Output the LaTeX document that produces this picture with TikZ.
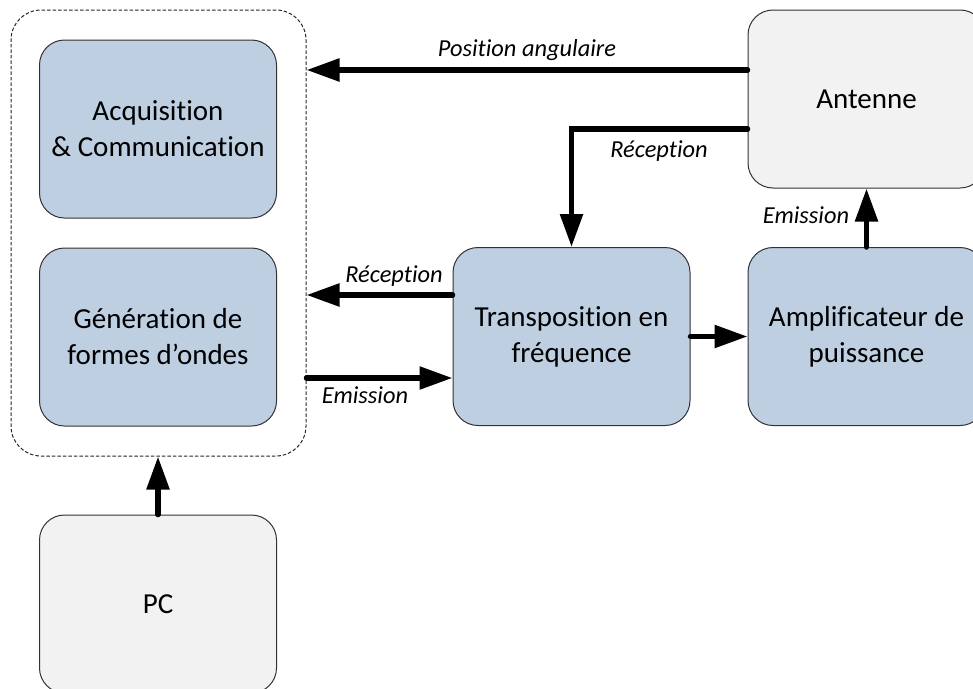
\documentclass[tikz,border=0pt]{standalone}
\usepackage{fontspec}
\setmainfont[Ligatures=NoCommon]{Carlito}
\usetikzlibrary{arrows.meta}
\definecolor{boxblue}{RGB}{190,207,226}
\definecolor{boxgray}{RGB}{242,242,242}
\definecolor{edge}{RGB}{50,50,50}
\tikzset{
  blockbox/.style={rectangle, rounded corners=25pt, draw=edge, line width=1pt,
    minimum width=237pt, minimum height=178pt, inner sep=0pt, align=center,
    font=\fontsize{29}{36}\selectfont},
  bluebox/.style={blockbox, fill=boxblue},
  graybox/.style={blockbox, fill=boxgray},
  groupbox/.style={rectangle, rounded corners=30pt, draw=black!85, line width=1pt,
    dash pattern=on 3.5pt off 2pt, minimum width=295pt, minimum height=446pt, inner sep=0pt},
  arr/.style={line width=5.5pt, line cap=round, -{Triangle[length=33pt,width=22pt]}},
  lbl/.style={anchor=base, inner sep=0pt, font=\itshape\fontsize{24.4}{29}\selectfont}
}
\begin{document}
\begin{tikzpicture}[x=1pt,y=-1pt]
\path[use as bounding box, clip] (0,0) rectangle (973,688);
\node[groupbox] (grp) at (158.5,233) {};
\node[bluebox] (acq) at (158,129) {Acquisition\\\& Communication};
\node[bluebox] (gen) at (158,337) {Génération de\\formes d’ondes};
\node[graybox] (pc) at (158,604) {PC};
\node[bluebox] (trans) at (571.5,336.5) {Transposition en\\fréquence};
\node[bluebox] (amp) at (866.5,336.5) {Amplificateur de\\puissance};
\node[graybox] (ant) at (866.5,99) {Antenne};
% connectors
\draw[arr] ([yshift=29pt]ant.west) -- ([yshift=29pt]ant.west -| grp.east);
\draw[arr] ([yshift=-30pt]ant.west) -| (trans.north);
\draw[arr] (amp.north) -- (ant.south);
\draw[arr] ([yshift=41.5pt]trans.west) -- ([yshift=41.5pt]trans.west -| grp.east);
\draw[arr] ([yshift=-41.5pt]trans.west -| grp.east) -- ([yshift=-41.5pt]trans.west);
\draw[arr] (trans.east) -- (amp.west);
\draw[arr] (pc.north) -- (pc.north |- grp.south);
% labels
\node[lbl] (lpos) at (527,56) {Position angulaire};
\node[lbl] (lrec1) at (659,157) {Réception};
\node[lbl] (lem1) at (806,223) {Emission};
\node[lbl] (lrec2) at (394,282) {Réception};
\node[lbl] (lem2) at (365,403) {Emission};
\end{tikzpicture}
\end{document}
